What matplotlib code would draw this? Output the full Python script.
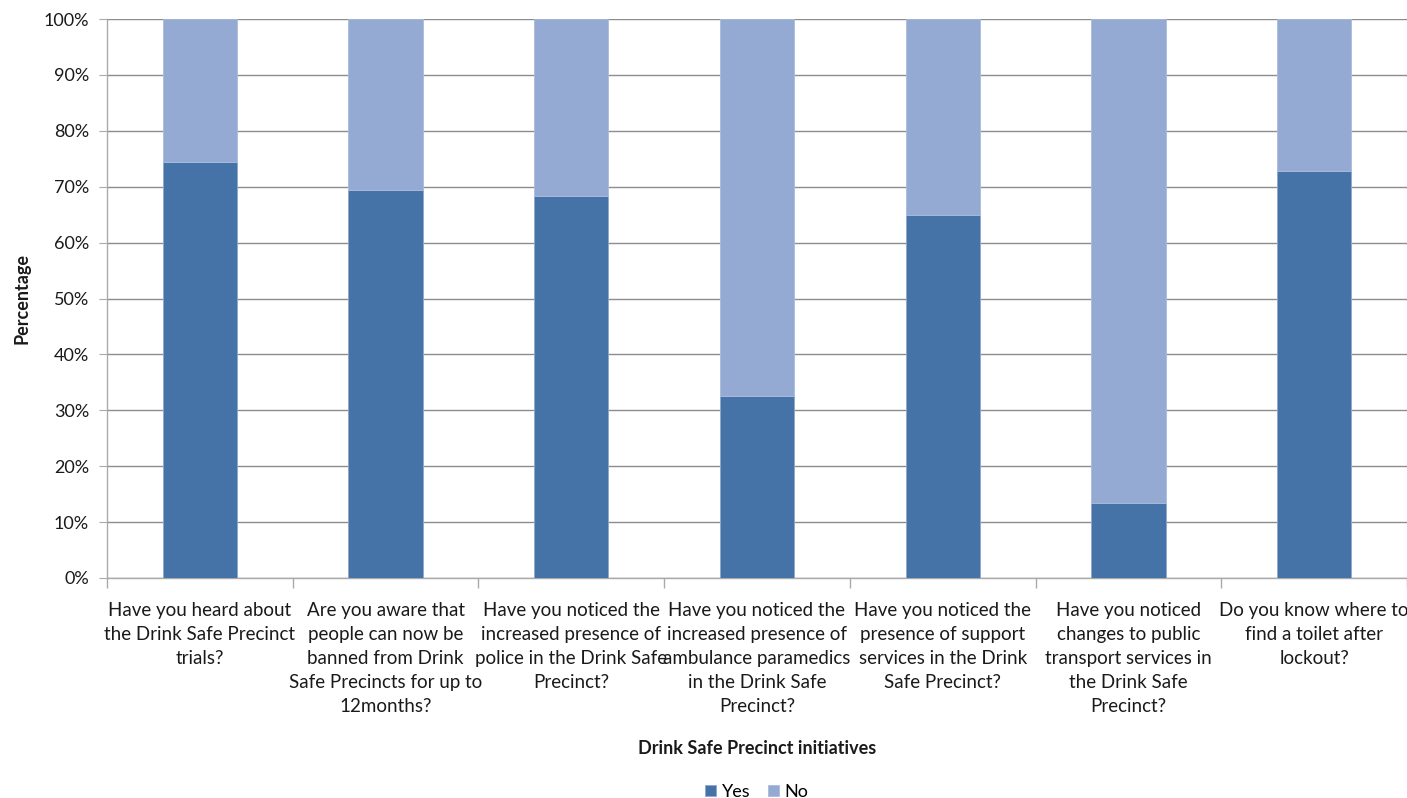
import matplotlib
matplotlib.use("Agg")
import matplotlib.pyplot as plt
import numpy as np
from matplotlib.ticker import PercentFormatter

categories = [
    "Have you heard about\nthe Drink Safe Precinct\ntrials?",
    "Are you aware that\npeople can now be\nbanned from Drink\nSafe Precincts for up to\n12months?",
    "Have you noticed the\nincreased presence of\npolice in the Drink Safe\nPrecinct?",
    "Have you noticed the\nincreased presence of\nambulance paramedics\nin the Drink Safe\nPrecinct?",
    "Have you noticed the\npresence of support\nservices in the Drink\nSafe Precinct?",
    "Have you noticed\nchanges to public\ntransport services in\nthe Drink Safe\nPrecinct?",
    "Do you know where to\nfind a toilet after\nlockout?",
]
yes = [74.4, 69.4, 68.3, 32.6, 64.9, 13.4, 72.8]
no = [100 - v for v in yes]
series_names = ["Yes", "No"]
colors = ["#4573A7", "#95AAD2"]

plt.rcParams['font.family'] = ['Lato', 'DejaVu Sans']

fig = plt.figure(figsize=(14.07, 7.98), dpi=100)
ax = fig.add_axes([107/1407, 1 - 578/798, 1300/1407, 559/798])

x = np.arange(len(categories))
ax.bar(x, yes, width=0.4, color=colors[0], label=series_names[0], zorder=3,
       edgecolor="#8FA8CC", linewidth=0.6)
ax.bar(x, no, width=0.4, bottom=yes, color=colors[1], label=series_names[1], zorder=3,
       edgecolor="#A9BBDD", linewidth=0.6)

ax.set_xlim(-0.5, len(categories) - 0.5)
ax.set_ylim(0, 100)
ax.set_yticks(np.arange(0, 101, 10))
ax.yaxis.set_major_formatter(PercentFormatter(decimals=0))
ax.grid(axis='y', color='#8C8C8C', linewidth=1.0, zorder=0)

ax.set_xticks(x)
ax.set_xticklabels(categories, fontsize=13.5, color='#1a1a1a', linespacing=1.5)
ax.set_xticks(np.arange(-0.5, len(categories), 1.0), minor=True)
ax.tick_params(axis='x', which='major', length=0, pad=17)
ax.tick_params(axis='x', which='minor', length=7, color='#AAAAAA', width=1)
ax.tick_params(axis='y', length=6, color='#AAAAAA', labelsize=13, labelcolor='#1a1a1a', pad=7)

for s in ['top', 'right']:
    ax.spines[s].set_visible(False)
for s in ['left', 'bottom']:
    ax.spines[s].set_color('#AAAAAA')
    ax.spines[s].set_linewidth(1.0)

ax.set_ylabel("Percentage", fontsize=13, fontweight='bold', color='#1a1a1a', labelpad=9)
ax.set_xlabel("Drink Safe Precinct initiatives", fontsize=13, fontweight='bold',
              color='#1a1a1a', labelpad=18)

leg = ax.legend(loc='center', bbox_to_anchor=(0.5, 1 - (792 - 19) / 559), ncol=2, frameon=False,
                fontsize=13, handlelength=0.6, handleheight=0.6, handletextpad=0.3,
                columnspacing=1.0)

fig.savefig("out.png", dpi=100)
